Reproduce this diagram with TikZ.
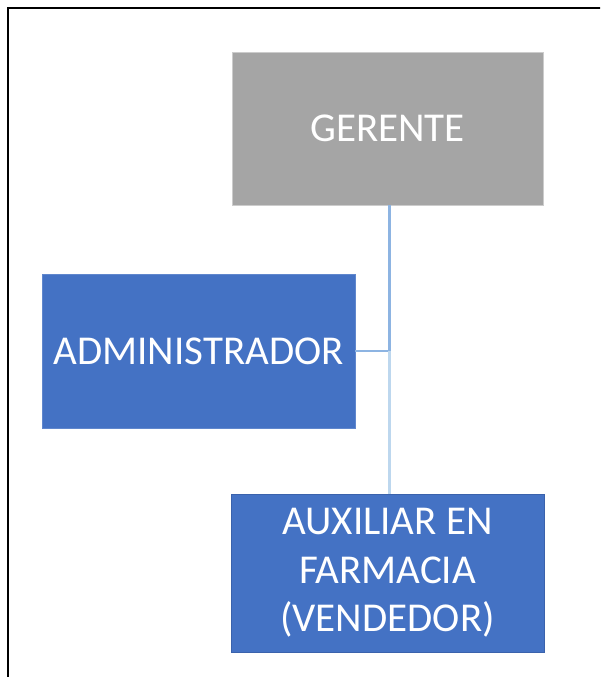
\documentclass[tikz,border=0pt]{standalone}
\usepackage{fontspec}
\setmainfont{Carlito}
\definecolor{boxgray}{HTML}{A5A5A5}
\definecolor{boxblue}{HTML}{4472C4}
\definecolor{blueedge}{HTML}{3A62AC}
\definecolor{linkdark}{HTML}{8DB4E2}
\definecolor{linklight}{HTML}{BDD7EE}
\begin{document}
\begin{tikzpicture}[x=1pt,y=-1pt,
  orgbox/.style={rectangle, minimum width=311pt, minimum height=154pt, inner sep=0pt,
    text=white, font=\fontsize{41}{48.5}\selectfont, align=center},
  link/.style={line width=3pt}]
\useasboundingbox (0,0) rectangle (600,677);
\clip (0,0) rectangle (600,677);
\fill[white] (0,0) rectangle (600,677);
% frame
\draw[line width=2pt, black] (7.5,690) -- (7.5,8.5) -- (610,8.5);
% boxes
\node[orgbox, fill=boxgray, draw=gray!40, line width=0.8pt, minimum width=311pt, minimum height=153pt] (gerente) at (387.5,128.5) {GERENTE};
\node[orgbox, fill=boxblue, draw=boxblue!85!white, line width=0.8pt, minimum width=313pt, minimum height=154pt] (admin) at (198.5,351) {ADMINISTRADOR};
\node[orgbox, fill=boxblue, draw=blueedge, line width=1pt, minimum width=313pt, minimum height=158pt] (aux) at (387.5,573) {AUXILIAR EN\\FARMACIA\\(VENDEDOR)};
% connectors
\coordinate (j) at (389,351);
\draw[link, linkdark] (gerente.south -| j) -- (j);
\draw[link, linklight] (j) -- (aux.north -| j);
\draw[line width=2pt, linkdark] (admin.east) -- ([xshift=-1pt]j);
\end{tikzpicture}
\end{document}
